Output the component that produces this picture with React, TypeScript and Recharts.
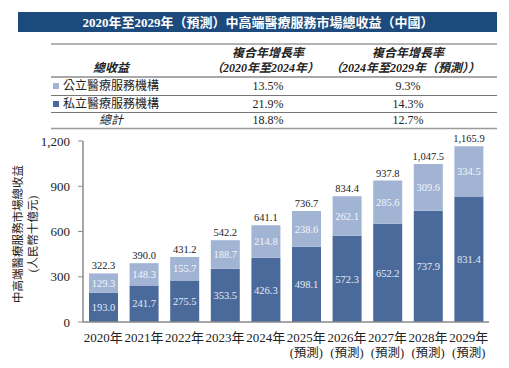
import React from 'react';
import { BarChart, Bar, XAxis, YAxis, LabelList } from 'recharts';

const years = ['2020年', '2021年', '2022年', '2023年', '2024年', '2025年', '2026年', '2027年', '2028年', '2029年'];
const forecastNote = ['', '', '', '', '', '(預測)', '(預測)', '(預測)', '(預測)', '(預測)'];
const privateRev = [193.0, 241.7, 275.5, 353.5, 426.3, 498.1, 572.3, 652.2, 737.9, 831.4];
const publicRev = [129.3, 148.3, 155.7, 188.7, 214.8, 238.6, 262.1, 285.6, 309.6, 334.5];
const totals = [322.3, 390.0, 431.2, 542.2, 641.1, 736.7, 834.4, 937.8, 1047.5, 1165.9];
const yTicks = [0, 300, 600, 900, 1200];

const title = '2020年至2029年（預測）中高端醫療服務市場總收益（中國）';
const cagrHeadTop = ['複合年增長率', '複合年增長率'];
const cagrHeadSub = ['（2020年至2024年）', '（2024年至2029年（預測））'];
const rowNames = ['公立醫療服務機構', '私立醫療服務機構', '總計'];
const cagrEarly = ['13.5%', '21.9%', '18.8%'];
const cagrLate = ['9.3%', '14.3%', '12.7%'];

const DARK = '#4a6a9c';
const LIGHT = '#a1b4d4';
const NAVY = '#1c4a7c';
const FONT = '"Liberation Serif", "Noto Sans CJK TC", serif';

const data = years.map((year, i) => ({
  year,
  note: forecastNote[i],
  private: privateRev[i],
  public: publicRev[i],
  total: totals[i],
}));

const fmt = (v: any) =>
  Number(v).toLocaleString('en-US', { minimumFractionDigits: 1, maximumFractionDigits: 1 });

const XTick = (props: any) => {
  const { x, y, payload } = props;
  const d = data[payload.index];
  return (
    <g>
      <text x={x} y={y + 12} textAnchor="middle" fontSize={13} fill="#222" fontFamily={FONT}>
        {d.year}
      </text>
      {d.note && (
        <text x={x} y={y + 27} textAnchor="middle" fontSize={12.5} fill="#222" fontFamily={FONT}>
          {d.note}
        </text>
      )}
    </g>
  );
};

const colA = 268;
const colB = 408;
const rowY = [86, 104, 120];

export default function App() {
  return (
    <div style={{ position: 'absolute', left: 0, top: 0, width: 509, height: 368, background: '#fff' }}>
      <div style={{ position: 'absolute', left: 0, top: 0 }}>
        <BarChart
          width={509}
          height={368}
          data={data}
          margin={{ top: 141, right: 20, bottom: 0, left: 0 }}
          barSize={29}
        >
          <XAxis
            dataKey="year"
            height={46}
            tickLine={false}
            axisLine={{ stroke: '#8a8a8a', strokeWidth: 1.5 }}
            tick={<XTick />}
            interval={0}
          />
          <YAxis
            width={83}
            domain={[0, 1200]}
            ticks={yTicks}
            tickSize={5}
            tickMargin={8}
            tickFormatter={(v) => v.toLocaleString('en-US')}
            axisLine={{ stroke: '#8a8a8a', strokeWidth: 1.5 }}
            tickLine={{ stroke: '#8a8a8a' }}
            tick={{ fontSize: 13, fill: '#222', fontFamily: FONT }}
          />
          <Bar dataKey="private" stackId="a" fill={DARK} isAnimationActive={false}>
            <LabelList dataKey="private" position="center" formatter={fmt} fill="#e4eaf3" fontSize={10.5} fontFamily={FONT} />
          </Bar>
          <Bar dataKey="public" stackId="a" fill={LIGHT} isAnimationActive={false}>
            <LabelList dataKey="public" position="center" formatter={fmt} fill="#f4f6fa" fontSize={10.5} fontFamily={FONT} />
            <LabelList dataKey="total" position="top" offset={4} formatter={fmt} fill="#222" fontSize={10.5} fontFamily={FONT} />
          </Bar>
        </BarChart>
      </div>
      <svg width={509} height={368} style={{ position: 'absolute', left: 0, top: 0, pointerEvents: 'none' }} fontFamily={FONT}>
        <rect x={18} y={12} width={479} height={20} fill={NAVY} />
        <text x={258} y={22} textAnchor="middle" dominantBaseline="central" fill="#fff" fontSize={13} fontWeight="bold">
          {title}
        </text>

        <line x1={51} x2={497} y1={44} y2={44} stroke="#9a9a9a" strokeWidth={1.5} />
        <line x1={51} x2={497} y1={77} y2={77} stroke="#555" strokeWidth={1.2} />
        <line x1={51} x2={497} y1={95.5} y2={95.5} stroke="#777" strokeWidth={1} />
        <line x1={51} x2={497} y1={112.5} y2={112.5} stroke="#777" strokeWidth={1} />
        <line x1={51} x2={497} y1={128.5} y2={128.5} stroke="#9a9a9a" strokeWidth={1.5} />

        <text x={111} y={68} textAnchor="middle" dominantBaseline="central" fontSize={12} fontStyle="italic" fontWeight="bold" fill="#222">
          總收益
        </text>
        {[colA, colB].map((cx, i) => (
          <g key={i}>
            <text x={cx} y={53} textAnchor="middle" dominantBaseline="central" fontSize={12} fontStyle="italic" fontWeight="bold" fill="#222">
              {cagrHeadTop[i]}
            </text>
            <text x={cx - 3} y={68} textAnchor="middle" dominantBaseline="central" fontSize={12} fontStyle="italic" fontWeight="bold" fill="#222">
              {cagrHeadSub[i]}
            </text>
          </g>
        ))}

        <rect x={53} y={83} width={6} height={6} fill={LIGHT} />
        <rect x={53} y={101} width={6} height={6} fill={DARK} />
        {rowNames.map((name, i) => (
          <text
            key={name}
            x={i === 2 ? 111 : 63}
            y={rowY[i]}
            textAnchor={i === 2 ? 'middle' : 'start'}
            dominantBaseline="central"
            fontSize={12}
            fontStyle={i === 2 ? 'italic' : 'normal'}
            fill="#222"
          >
            {name}
          </text>
        ))}
        {rowY.map((y, i) => (
          <g key={i}>
            <text x={colA} y={y} textAnchor="middle" dominantBaseline="central" fontSize={12} fill="#222">
              {cagrEarly[i]}
            </text>
            <text x={colB} y={y} textAnchor="middle" dominantBaseline="central" fontSize={12} fill="#222">
              {cagrLate[i]}
            </text>
          </g>
        ))}

        <text x={18} y={234} transform="rotate(-90 18 234)" textAnchor="middle" dominantBaseline="central" fontSize={11.5} fill="#222">
          中高端醫療服務市場總收益
        </text>
        <text x={33} y={234} transform="rotate(-90 33 234)" textAnchor="middle" dominantBaseline="central" fontSize={11.5} fill="#222">
          (人民幣十億元)
        </text>
      </svg>
    </div>
  );
}
